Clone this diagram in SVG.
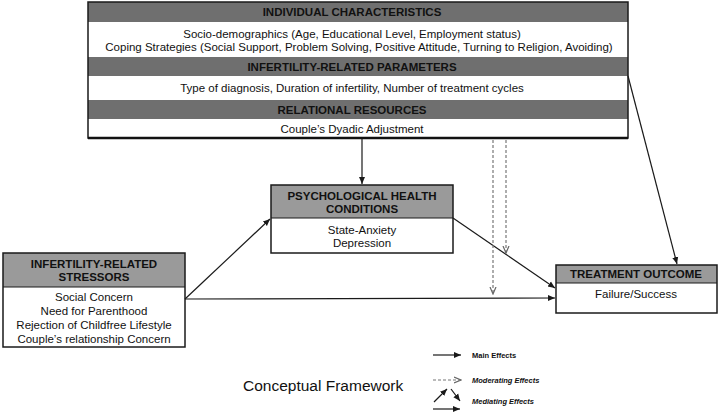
<svg xmlns="http://www.w3.org/2000/svg" width="720" height="414" viewBox="0 0 720 414">
<defs>
<style>
.hd{fill:#6f6f6f}
.hd2{fill:#9a9a9a}
.bx{fill:none;stroke:#1a1a1a;stroke-width:1.5}
.t{font-family:"Liberation Sans",Arial,sans-serif;font-size:11.5px;fill:#111;text-anchor:middle}
.b{font-family:"Liberation Sans",Arial,sans-serif;font-size:11.5px;font-weight:bold;fill:#111;text-anchor:middle}
.ln{stroke:#1a1a1a;stroke-width:1.2;fill:none}
.ds{stroke:#777;stroke-width:1.2;fill:none;stroke-dasharray:3,2}
.lg{font-family:"Liberation Sans",Arial,sans-serif;font-size:7.5px;font-weight:bold;fill:#111}
</style>
<marker id="ah" markerWidth="8" markerHeight="8" refX="7" refY="4" orient="auto" markerUnits="userSpaceOnUse">
<path d="M0,1 L7,4 L0,7 Z" fill="#1a1a1a"/>
</marker>
<marker id="ahd" markerWidth="8" markerHeight="8" refX="7" refY="4" orient="auto" markerUnits="userSpaceOnUse">
<path d="M0,1 L7,4 L0,7" fill="none" stroke="#666" stroke-width="1.2"/>
</marker>
</defs>
<rect width="720" height="414" fill="#fff"/>

<g id="top-box">
<rect class="hd" x="88" y="2" width="540" height="20"/>
<rect class="hd" x="88" y="57" width="540" height="19"/>
<rect class="hd" x="88" y="100" width="540" height="19"/>
<rect class="bx" x="88" y="2" width="540" height="136"/>
<line x1="88" y1="138" x2="628" y2="138" stroke="#111" stroke-width="2.5"/>
<text class="b" x="352" y="16">INDIVIDUAL CHARACTERISTICS</text>
<text class="t" x="352" y="38">Socio-demographics (Age, Educational Level, Employment status)</text>
<text class="t" x="359" y="51">Coping Strategies (Social Support, Problem Solving, Positive Attitude, Turning to Religion, Avoiding)</text>
<text class="b" x="352" y="71">INFERTILITY-RELATED PARAMETERS</text>
<text class="t" x="352" y="92">Type of diagnosis, Duration of infertility, Number of treatment cycles</text>
<text class="b" x="352" y="114">RELATIONAL RESOURCES</text>
<text class="t" x="352" y="133">Couple’s Dyadic Adjustment</text>
</g>

<g id="psych">
<rect class="hd2" x="271" y="185" width="182" height="33"/>
<rect class="bx" x="271" y="185" width="182" height="68"/>
<line x1="271" y1="218" x2="453" y2="218" stroke="#1a1a1a" stroke-width="1"/>
<text class="b" x="362" y="200">PSYCHOLOGICAL HEALTH</text>
<text class="b" x="362" y="213">CONDITIONS</text>
<text class="t" x="362" y="234">State-Anxiety</text>
<text class="t" x="362" y="247">Depression</text>
</g>

<g id="stressors">
<rect class="hd2" x="3" y="253" width="182" height="34"/>
<rect class="bx" x="3" y="253" width="182" height="94"/>
<line x1="3" y1="287" x2="185" y2="287" stroke="#1a1a1a" stroke-width="1"/>
<text class="b" x="94" y="268">INFERTILITY-RELATED</text>
<text class="b" x="94" y="281">STRESSORS</text>
<text class="t" x="94" y="301">Social Concern</text>
<text class="t" x="94" y="315">Need for Parenthood</text>
<text class="t" x="94" y="329">Rejection of Childfree Lifestyle</text>
<text class="t" x="94" y="343">Couple’s relationship Concern</text>
</g>

<g id="outcome">
<rect class="hd2" x="556" y="265" width="161" height="18"/>
<rect class="bx" x="556" y="265" width="161" height="48"/>
<line x1="556" y1="283" x2="717" y2="283" stroke="#1a1a1a" stroke-width="1"/>
<text class="b" x="636" y="278">TREATMENT OUTCOME</text>
<text class="t" x="636" y="298">Failure/Success</text>
</g>

<g id="connectors">
<line class="ln" x1="362" y1="139" x2="362" y2="184" marker-end="url(#ah)"/>
<line class="ln" x1="628" y1="76" x2="677" y2="264" marker-end="url(#ah)"/>
<line class="ln" x1="185" y1="299" x2="270" y2="219" marker-end="url(#ah)"/>
<line class="ln" x1="185" y1="299" x2="555" y2="298" marker-end="url(#ah)"/>
<line class="ln" x1="453" y1="218" x2="555" y2="288" marker-end="url(#ah)"/>
<line class="ds" x1="493" y1="140" x2="493" y2="294" marker-end="url(#ahd)"/>
<line class="ds" x1="506" y1="140" x2="506" y2="253" marker-end="url(#ahd)"/>
</g>

<g id="legend">
<line class="ln" x1="433" y1="355" x2="461" y2="355" marker-end="url(#ah)"/>
<text class="lg" x="472" y="358">Main Effects</text>
<line class="ds" x1="433" y1="380" x2="461" y2="380" stroke-width="0.8" marker-end="url(#ahd)"/>
<text class="lg" x="472" y="383" font-style="italic">Moderating Effects</text>
<line class="ln" x1="434" y1="402" x2="447" y2="389" marker-end="url(#ah)"/>
<line class="ln" x1="451" y1="389" x2="460" y2="401" marker-end="url(#ah)"/>
<line class="ln" x1="433" y1="409" x2="460" y2="409" marker-end="url(#ah)"/>
<text class="lg" x="472" y="404" font-style="italic">Mediating Effects</text>
<text x="243" y="391" font-family="'Liberation Sans',Arial,sans-serif" font-size="15.5" fill="#111">Conceptual Framework</text>
</g>
</svg>
